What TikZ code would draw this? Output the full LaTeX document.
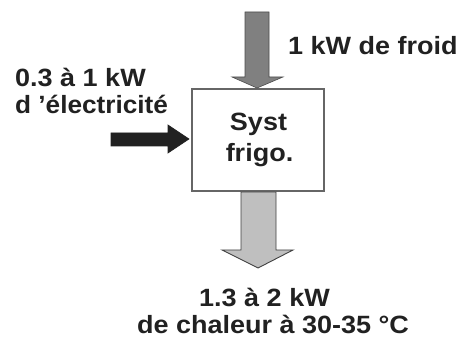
\documentclass[tikz,border=0pt]{standalone}
\usepackage{fontspec}
\setmainfont{Liberation Sans}[FakeStretch=1.08]
\begin{document}
\begin{tikzpicture}[x=1pt,y=-1pt,
  lbl/.style={inner sep=0pt, font=\bfseries\fontsize{25}{27}\selectfont, text=black!87},
  boxst/.style={draw=black!60, line width=1.2pt, fill=white},
  arrdark/.style={fill=black!87, draw=black!87, line width=0.6pt},
  arrmid/.style={fill=black!50, draw=black!70, line width=0.6pt},
  arrlight/.style={fill=black!25, draw=black!75, line width=0.9pt}]
\useasboundingbox (0,0) rectangle (461,344);
% system box
\node[boxst, minimum width=132pt, minimum height=102pt, inner sep=0pt] (sys) at (258,140) {};
\node[lbl, anchor=base] (t1) at (258.5,131) {Syst};
\node[lbl, anchor=base] (t2) at (259.5,162) {frigo.};
% top arrow (cold)
\draw[arrmid] (245,12) -- (269,12) -- (269,77) -- (283,77) -- (257,88) -- (232,77) -- (245,77) -- cycle;
% left arrow (electricity)
\draw[arrdark] (111,133) -- (168,133) -- (168,125) -- (189,139) -- (168,153) -- (168,146) -- (111,146) -- cycle;
% bottom arrow (heat)
\draw[arrlight] (241,192) -- (276,192) -- (276,250) -- (293,250) -- (258,268) -- (222,250) -- (241,250) -- cycle;
% labels
\node[lbl, anchor=base west] (froid) at (288,55) {1 kW de froid};
\node[lbl, anchor=base west] (elec1) at (15,87) {0.3 à 1 kW};
\node[lbl, anchor=base west, xscale=0.97] (elec2) at (15,114) {d 'électricité};
\node[lbl, anchor=base] (chal1) at (264.5,307) {1.3 à 2 kW};
\node[lbl, anchor=base] (chal2) at (273,334) {de chaleur à 30-35 °C};
\end{tikzpicture}
\end{document}
